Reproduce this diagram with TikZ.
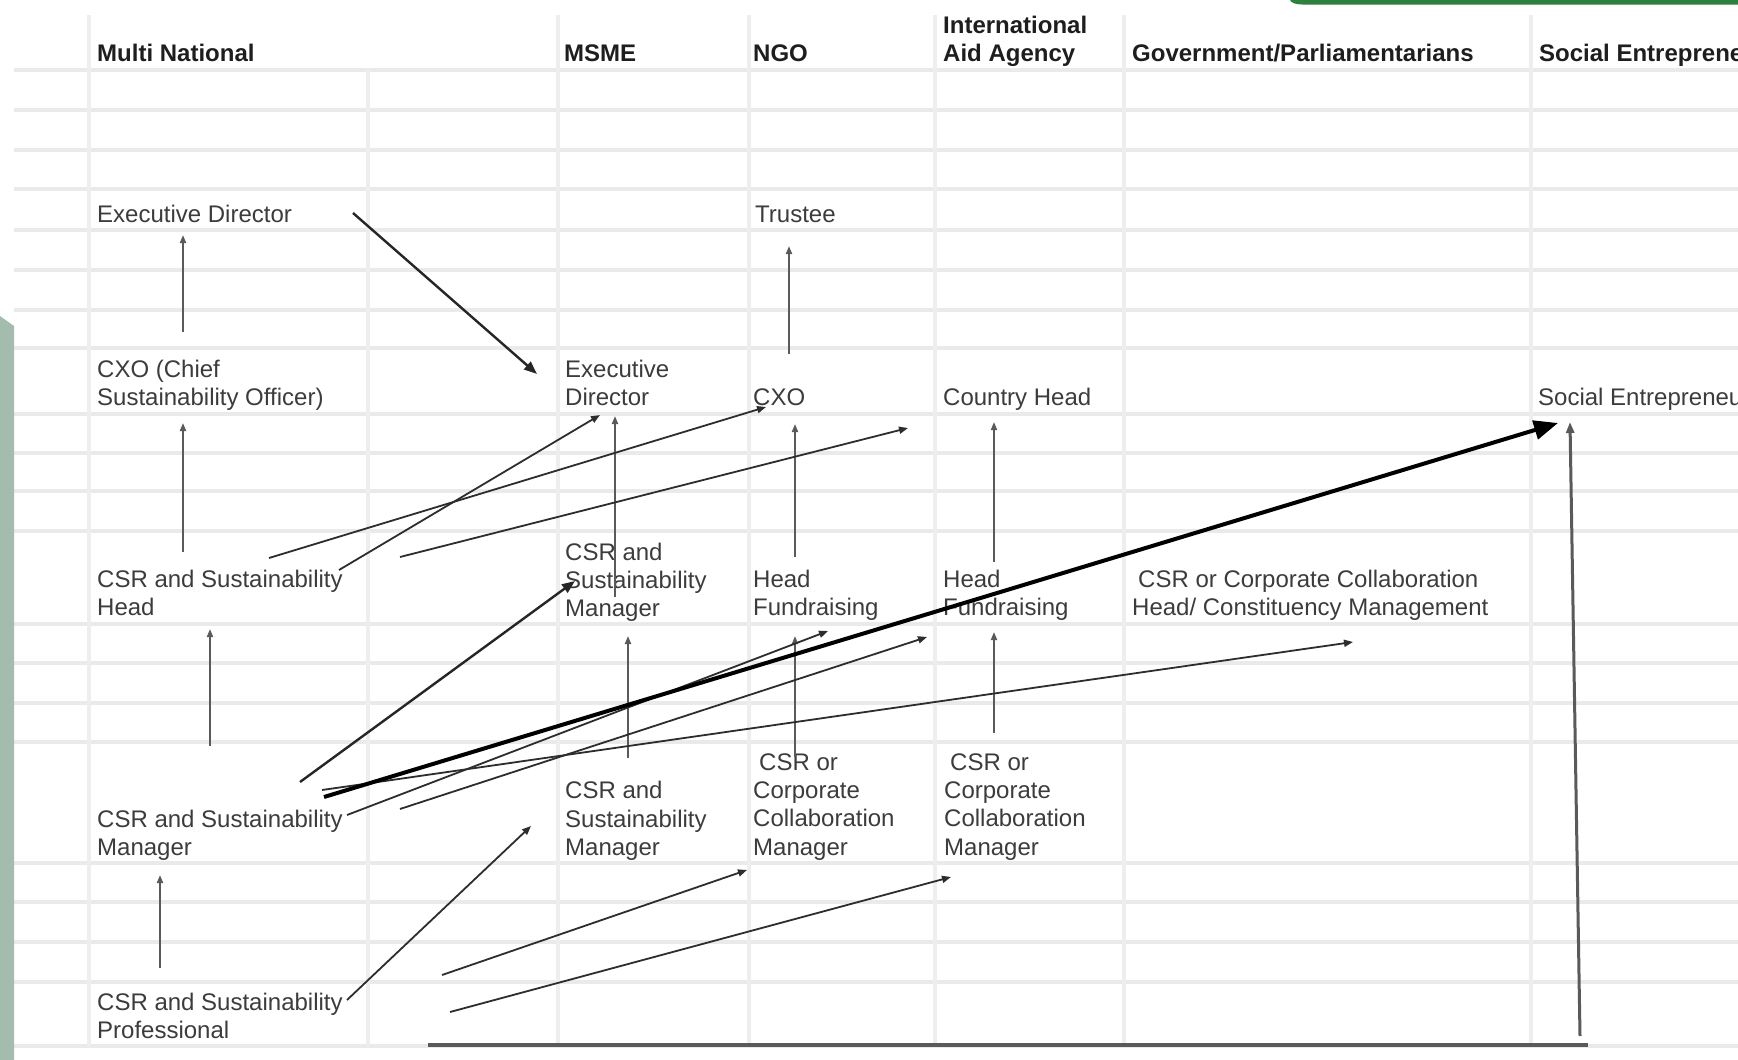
\documentclass[tikz,border=0pt]{standalone}
\usepackage{fontspec}
\setmainfont{Liberation Sans}
\usetikzlibrary{arrows.meta}
\definecolor{gridc}{RGB}{234,234,234}
\definecolor{txtc}{RGB}{60,60,60}
\definecolor{hdrc}{RGB}{30,30,30}
\definecolor{sage}{RGB}{163,188,173}
\definecolor{dgreen}{RGB}{46,128,62}
\definecolor{arrc}{RGB}{45,45,45}
\definecolor{varrc}{RGB}{90,90,90}
\newcommand\bodyfont{\fontsize{24}{28.4}\selectfont}
\begin{document}
\begin{tikzpicture}[x=1pt,y=-1pt,
  lbl/.style={anchor=north west, inner sep=0pt, align=left, font=\bodyfont, text=txtc},
  hdr/.style={lbl, font=\bodyfont\bfseries, text=hdrc},
  gridh/.style={draw=gridc, line width=3.5pt},
  gridv/.style={draw=gridc!80!white, line width=3.5pt},
  conn/.style={draw=arrc, line width=1.8pt, -{Triangle[length=9pt,width=7pt]}},
  vconn/.style={draw=varrc, line width=1.8pt, -{Triangle[length=8pt,width=6pt]}},
  medconn/.style={draw=black!85, line width=2.4pt, -{Triangle[length=13pt,width=10pt]}},
  bigconn/.style={draw=black, line width=4pt, -{Triangle[length=24pt,width=19pt]}},
  baseline line/.style={draw=varrc, line width=3.5pt},
]
\useasboundingbox (0,0) rectangle (1738,1060);
\clip (0,0) rectangle (1738,1060);
\fill[white] (0,0) rectangle (1738,1060);

% grid
\foreach \yy in {70,110,150,189,230,270,310,348,414,453,491,531,624,663,703,742,863,902,942,982,1046}
  \draw[gridh] (14,\yy) -- (1738,\yy);
\foreach \xx in {89,558,749,935,1124,1531}
  \draw[gridv] (\xx,15) -- (\xx,1046);
\draw[gridv] (368,70) -- (368,1046);

% decorations
\fill[sage] (0,316) -- (14,326) -- (14,1060) -- (0,1060) -- cycle;
\fill[dgreen] (1290,0) -- (1738,0) -- (1738,4.5) -- (1302,4.5) .. controls (1295,4.5) and (1291,2.5) .. (1290,0) -- cycle;

% headers (first baseline - 19.88)
\node[hdr] (hMN)   at (97,41.6)   {\strut Multi National};
\node[hdr] (hMSME) at (564,41.6)  {\strut MSME};
\node[hdr] (hNGO)  at (753,41.6)  {\strut NGO};
\node[hdr] (hIAA)  at (943,13.1)  {\strut International\\\strut Aid Agency};
\node[hdr] (hGov)  at (1132,41.6) {\strut Government/Parliamentarians};
\node[hdr] (hSE)   at (1539,41.6) {\strut Social Entrepreneur};

% body labels
\node[lbl] (mnED)   at (97,202.1)  {\strut Executive Director};
\node[lbl] (ngoT)   at (755,202.1) {\strut Trustee};
\node[lbl] (mnCXO)  at (97,357.1)  {\strut CXO (Chief\\\strut Sustainability Officer)};
\node[lbl] (msED)   at (565,357.1) {\strut Executive\\\strut Director};
\node[lbl] (ngoCXO) at (753,385.1) {\strut CXO};
\node[lbl] (iaaCH)  at (943,385.1) {\strut Country Head};
\node[lbl] (seSE)   at (1538,385.1) {\strut Social Entrepreneur};
\node[lbl] (mnHead) at (97,567.1)  {\strut CSR and Sustainability\\\strut Head};
\node[lbl] (msMgrA) at (565,540.1) {\strut CSR and\\\strut Sustainability\\\strut Manager};
\node[lbl] (ngoHF)  at (753,567.1) {\strut Head\\\strut Fundraising};
\node[lbl] (iaaHF)  at (943,567.1) {\strut Head\\\strut Fundraising};
\node[lbl] (govH)   at (1132,567.1) {\strut\hspace*{6pt}CSR or Corporate Collaboration\\\strut Head/ Constituency Management};
\node[lbl] (mnMgr)  at (97,807.1)  {\strut CSR and Sustainability\\\strut Manager};
\node[lbl] (msMgrB) at (565,778.6) {\strut CSR and\\\strut Sustainability\\\strut Manager};
\node[lbl] (ngoCM)  at (753,750.1) {\strut\hspace*{6pt}CSR or\\\strut Corporate\\\strut Collaboration\\\strut Manager};
\node[lbl] (iaaCM)  at (944,750.1) {\strut\hspace*{6pt}CSR or\\\strut Corporate\\\strut Collaboration\\\strut Manager};
\node[lbl] (mnProf) at (97,990.1)  {\strut CSR and Sustainability\\\strut Professional};

% connector end points
\coordinate (a1s) at (183,332);  \coordinate (a1e) at (183,235);
\coordinate (a2s) at (183,552);  \coordinate (a2e) at (183,423);
\coordinate (a3s) at (210,746);  \coordinate (a3e) at (210,629);
\coordinate (a4s) at (160,968);  \coordinate (a4e) at (160,875);
\coordinate (a5s) at (353,213);  \coordinate (a5e) at (537,374);
\coordinate (a6s) at (789,354);  \coordinate (a6e) at (789,246);
\coordinate (a7s) at (615,597);  \coordinate (a7e) at (615,416);
\coordinate (a8s) at (795,557);  \coordinate (a8e) at (795,424);
\coordinate (a9s) at (994,562);  \coordinate (a9e) at (994,422);
\coordinate (a10s) at (628,758); \coordinate (a10e) at (628,636);
\coordinate (a11s) at (795,757); \coordinate (a11e) at (795,636);
\coordinate (a12s) at (994,733); \coordinate (a12e) at (994,632);
\coordinate (a13s) at (1580,1036); \coordinate (a13e) at (1570,422);
\coordinate (bls) at (428,1045); \coordinate (ble) at (1588,1045);
\coordinate (a15s) at (269,558); \coordinate (a15e) at (766,407);
\coordinate (a16s) at (339,570); \coordinate (a16e) at (600,415);
\coordinate (a17s) at (400,557); \coordinate (a17e) at (908,428);
\coordinate (a18s) at (300,782); \coordinate (a18e) at (575,581);
\coordinate (a19s) at (324,797); \coordinate (a19e) at (1558,423);
\coordinate (a20s) at (347,815); \coordinate (a20e) at (828,631);
\coordinate (a21s) at (400,809); \coordinate (a21e) at (927,637);
\coordinate (a22s) at (322,790); \coordinate (a22e) at (1353,642);
\coordinate (a23s) at (347,1000); \coordinate (a23e) at (531,826);
\coordinate (a24s) at (442,975); \coordinate (a24e) at (747,870);
\coordinate (a25s) at (450,1012); \coordinate (a25e) at (951,877);

% vertical connectors
\draw[vconn] (a1s) -- (a1e);
\draw[vconn] (a2s) -- (a2e);
\draw[vconn] (a3s) -- (a3e);
\draw[vconn] (a4s) -- (a4e);
\draw[vconn] (a6s) -- (a6e);
\draw[vconn] (a7s) -- (a7e);
\draw[vconn] (a8s) -- (a8e);
\draw[vconn] (a9s) -- (a9e);
\draw[vconn] (a10s) -- (a10e);
\draw[vconn] (a11s) -- (a11e);
\draw[vconn] (a12s) -- (a12e);

% diagonal connectors
\draw[medconn] (a5s) -- (a5e);
\draw[conn] (a15s) -- (a15e);
\draw[conn] (a16s) -- (a16e);
\draw[conn] (a17s) -- (a17e);
\draw[medconn] (a18s) -- (a18e);
\draw[conn] (a20s) -- (a20e);
\draw[conn] (a21s) -- (a21e);
\draw[conn] (a22s) -- (a22e);
\draw[conn] (a23s) -- (a23e);
\draw[conn] (a24s) -- (a24e);
\draw[conn] (a25s) -- (a25e);
\draw[bigconn] (a19s) -- (a19e);

% bottom route to Social Entrepreneur
\draw[baseline line] (bls) -- (ble);
\draw[draw=varrc, line width=3pt, -{Triangle[length=11pt,width=8pt]}] (a13s) -- (a13e);
\end{tikzpicture}
\end{document}
